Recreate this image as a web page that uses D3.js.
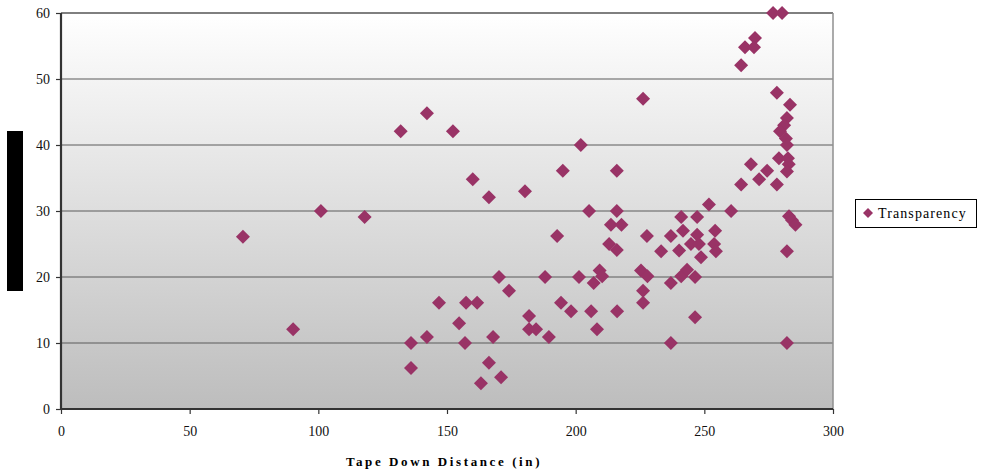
<!DOCTYPE html>
<html><head><meta charset="utf-8">
<script src="https://cdn.jsdelivr.net/npm/d3@7"></script>
<style>body{margin:0;background:#fff}svg{display:block}</style>
</head><body>
<svg id="c" width="1006" height="471"></svg>
<script>
const tapeDown = [70.7,90.2,101,118,132,142.2,152.3,160,166.3,180.3,195,202,216,226.2,205.2,216,213.7,217.8,192.8,227.7,213,216,233.2,237,170.2,174.1,188.1,201.3,209.3,210.3,207,225.4,227.9,226.2,226.2,237,237,146.9,157.4,161.7,154.7,136,142.2,157,136,166.3,163.2,171,167.9,181.9,181.9,184.6,189.6,194.3,198.2,206,208.3,216.1,
276.7,280.2,269.7,265.8,269.3,264.3,278.2,283.3,282.1,281,279.4,281.7,282.1,279,282.5,282.8,282.1,268.1,274.4,271.3,278.2,264.3,251.8,260.4,282.9,284.1,285.4,241,247.2,241.7,247.2,254.2,240.2,244.8,247.9,248.7,253.8,254.5,282.1,241,243.3,246.4,246.4,282.1];
const transparency = [26.1,12.1,30,29.1,42.1,44.8,42.1,34.8,32.1,33,36.1,40,36.1,47,30,30,27.9,27.9,26.2,26.2,25,24.1,23.9,26.2,20,17.9,20,20,21,20.1,19.1,21,20.1,17.9,16.1,19.1,10,16.1,16.1,16.1,13,10,10.9,10,6.2,7,3.9,4.8,10.9,14.1,12.1,12.1,10.9,16.1,14.8,14.8,12.1,14.8,
60,60,56.2,54.8,54.8,52.1,47.9,46.1,44.1,43,42.1,41,40,38,38,37.1,36,37.1,36.1,34.8,34,34,31,30,29.2,28.6,27.9,29.1,29.1,27,26.4,27,24,25,25,23,25,23.9,23.9,20.1,21.1,20,13.9,10];
const xTicks = [0,50,100,150,200,250,300];
const yTicks = [0,10,20,30,40,50,60];
const seriesName = "Transparency";
const xTitle = "Tape Down Distance (in)";

const svg = d3.select("#c");
const L=61, R=833, T=13, B=409;
const x = d3.scaleLinear().domain([0,300]).range([L,R]);
const y = d3.scaleLinear().domain([0,60]).range([B,T]);

const defs = svg.append("defs");
const g = defs.append("linearGradient").attr("id","bg").attr("x1",0).attr("y1",0).attr("x2",0).attr("y2",1);
g.append("stop").attr("offset","0%").attr("stop-color","#ffffff");
g.append("stop").attr("offset","100%").attr("stop-color","#bdbdbd");
svg.append("rect").attr("x",L).attr("y",T).attr("width",R-L).attr("height",B-T).attr("fill","url(#bg)");

// gridlines
svg.append("g").selectAll("line").data(yTicks.filter(d=>d>0&&d<60)).join("line")
  .attr("x1",L).attr("x2",R).attr("y1",d=>y(d)).attr("y2",d=>y(d))
  .attr("stroke","#5a5a5a").attr("stroke-width",1);
// top & right border
svg.append("line").attr("x1",L).attr("x2",R).attr("y1",T).attr("y2",T).attr("stroke","#7f7f7f").attr("stroke-width",2);
svg.append("line").attr("x1",R).attr("x2",R).attr("y1",T).attr("y2",B).attr("stroke","#8f8f8f").attr("stroke-width",1.5);

const font = "'Liberation Serif','Times New Roman',serif";
const yAxis = svg.append("g").attr("transform",`translate(${L},0)`)
  .call(d3.axisLeft(y).tickValues(yTicks).tickSize(5).tickPadding(6).tickFormat(d3.format("d")));
const xAxis = svg.append("g").attr("transform",`translate(0,${B})`)
  .call(d3.axisBottom(x).tickValues(xTicks).tickSize(5).tickPadding(12).tickFormat(d3.format("d")));
[yAxis,xAxis].forEach(a=>{
  a.select(".domain").attr("stroke","#333").attr("stroke-width",2.2);
  a.selectAll(".tick line").attr("stroke","#333").attr("stroke-width",1.2);
  a.selectAll("text").attr("font-family",font).attr("font-size",14).attr("fill","#111");
});
yAxis.select(".domain").attr("d",`M-0,${B}V${T}`);
xAxis.select(".domain").attr("d",`M${L},0H${R}`);

const diamond = "M0,-7L7,0L0,7L-7,0Z";
svg.append("g").selectAll("path").data(tapeDown.map((d,i)=>[d,transparency[i]])).join("path")
  .attr("d",diamond).attr("transform",d=>`translate(${x(d[0])},${y(d[1])})`)
  .attr("fill","#993366");

// y title (rendered as black bar in reference)
svg.append("rect").attr("x",7).attr("y",131).attr("width",16).attr("height",160).attr("fill","#000");

svg.append("text").attr("x",(L+R)/2-3).attr("y",466).attr("text-anchor","middle")
  .attr("font-family",font).attr("font-weight","bold").attr("font-size",13)
  .attr("letter-spacing","2.6px").attr("fill","#000").text(xTitle);

// legend
const lg = svg.append("g");
lg.append("rect").attr("x",855.5).attr("y",199.5).attr("width",121).attr("height",28)
  .attr("fill","#fff").attr("stroke","#000").attr("stroke-width",1);
lg.append("path").attr("d","M0,-5L5,0L0,5L-5,0Z").attr("transform","translate(868,213)").attr("fill","#993366");
lg.append("text").attr("x",878).attr("y",218).attr("font-family",font).attr("font-size",14)
  .attr("letter-spacing","1.1px").attr("fill","#000").text(seriesName);
</script>
</body></html>
